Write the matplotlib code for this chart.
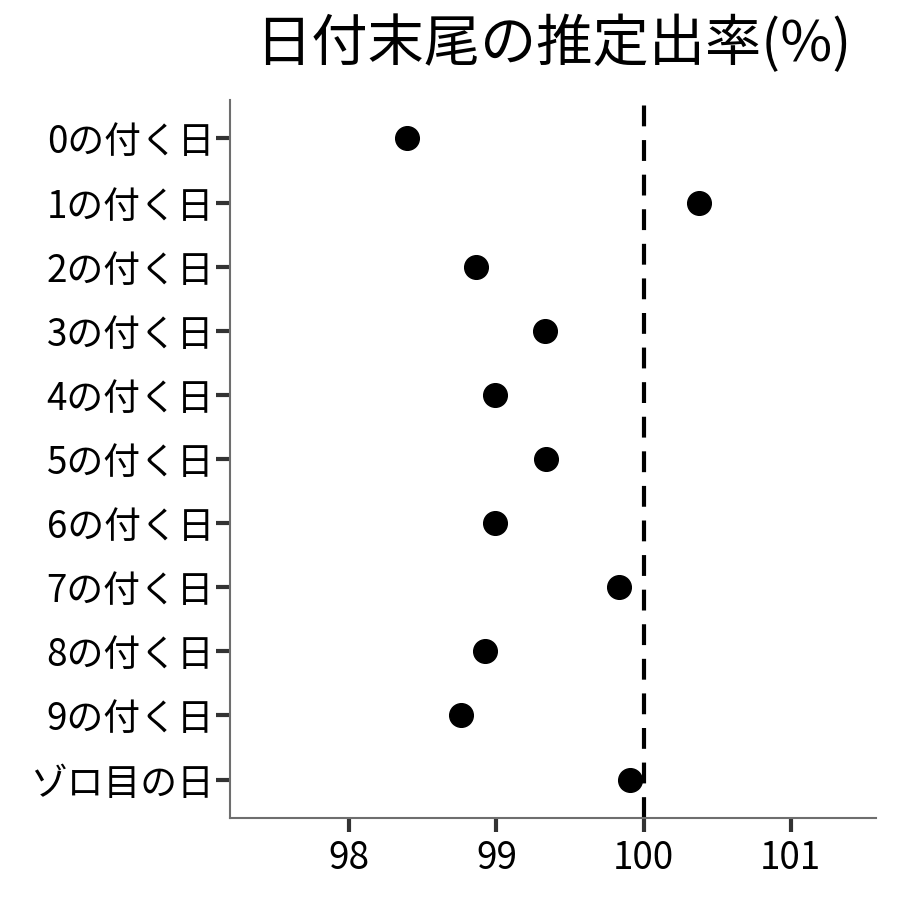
import matplotlib

matplotlib.use("Agg")
import matplotlib.pyplot as plt

plt.rcParams["font.family"] = ["Noto Sans CJK JP", "DejaVu Sans"]

# データ
labels = ["0の付く日", "1の付く日", "2の付く日", "3の付く日", "4の付く日",
          "5の付く日", "6の付く日", "7の付く日", "8の付く日", "9の付く日", "ゾロ目の日"]
rates = [98.39, 100.38, 98.86, 99.33, 98.99, 99.34, 98.99, 99.83, 98.92, 98.76, 99.91]
xticks = [98, 99, 100, 101]
ref_line = 100

fig = plt.figure(figsize=(9, 9), dpi=100)
ax = fig.add_axes([0.2556, 0.0911, 0.7178, 0.7978])

ypos = list(range(len(labels), 0, -1))
ax.axvline(ref_line, color="black", linewidth=3, linestyle=(0, (5, 3.3)), zorder=1)
ax.scatter(rates, ypos, s=290, color="black", zorder=3)

ax.set_xlim(97.19, 101.58)
ax.set_ylim(0.4, len(labels) + 0.6)
ax.set_xticks(xticks)
ax.set_xticklabels([str(t) for t in xticks])
ax.set_yticks(ypos)
ax.set_yticklabels(labels)

for side in ["top", "right"]:
    ax.spines[side].set_visible(False)
for side in ["left", "bottom"]:
    ax.spines[side].set_color("#6e6e6e")
    ax.spines[side].set_linewidth(1.5)

ax.tick_params(axis="both", length=10, width=3, color="#333333", labelsize=26.5,
               labelcolor="black")
ax.tick_params(axis="y", pad=1.5)
ax.tick_params(axis="x", pad=5)

fig.text(0.6144, 0.95, "日付末尾の推定出率(%)", ha="center", va="center", fontsize=40.5)

fig.savefig("out.png", dpi=100)
plt.close(fig)
